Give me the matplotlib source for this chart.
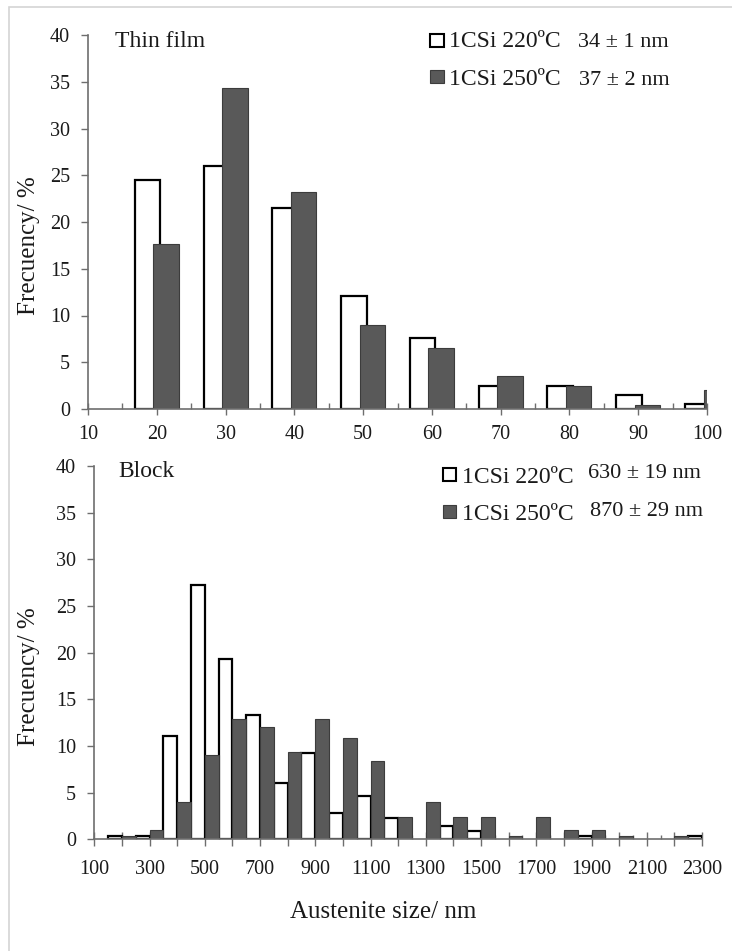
import numpy as np
import matplotlib
matplotlib.use("Agg")
import matplotlib.pyplot as plt
from matplotlib.patches import Rectangle
from matplotlib.ticker import MultipleLocator, FixedLocator, FuncFormatter

# ---------------- data ----------------
thin_sizes = [20, 30, 40, 50, 60, 70, 80, 90, 100]
thin_220 = [24.5, 26.0, 21.5, 12.1, 7.6, 2.5, 2.5, 1.5, 0.5]
thin_250 = [17.7, 34.3, 23.2, 9.0, 6.5, 3.5, 2.5, 0.4, 2.0]

block_sizes = [200, 300, 400, 500, 600, 700, 800, 900, 1000, 1100, 1200,
               1300, 1400, 1500, 1600, 1700, 1800, 1900, 2000, 2100, 2200, 2300]
block_220 = [0.4, 0.4, 11.1, 27.2, 19.3, 13.3, 6.0, 9.3, 2.8, 4.6, 2.3,
             0.0, 1.4, 0.9, 0.0, 0.0, 0.0, 0.4, 0.0, 0.0, 0.0, 0.4]
block_250 = [0.4, 1.0, 4.0, 9.0, 12.9, 12.0, 9.4, 12.9, 10.9, 8.4, 2.4,
             4.0, 2.4, 2.4, 0.4, 2.4, 1.0, 1.0, 0.4, 0.0, 0.4, 0.0]

series_names = ["1CSi 220ºC", "1CSi 250ºC"]
thin_stats = ["34 ± 1 nm", "37 ± 2 nm"]
block_stats = ["630 ± 19 nm", "870 ± 29 nm"]

# ---------------- style ----------------
W, H = 732, 951
FONT = "Liberation Serif"
plt.rcParams["font.family"] = [FONT, "DejaVu Serif"]
DARK = "#595959"
DARK_EDGE = "#3c3c3c"
AXC = "#6e6e6e"
TXT = "#1a1a1a"
TICKSIZE = 14.5

fig = plt.figure(figsize=(W / 100, H / 100), dpi=100)
fig.patch.set_facecolor("white")


def rect_px(l, t, r, b):
    return [l / W, 1 - b / H, (r - l) / W, (b - t) / H]


# light border around the whole figure
fig.add_artist(Rectangle((9 / W, -0.2), 1.5, 1.2 - 7 / H,
                         transform=fig.transFigure, fill=False,
                         edgecolor="#d4d4d4", linewidth=1.2))


def draw_bars(ax, x, a, b, width, offset):
    x = np.asarray(x, float)
    a = np.asarray(a, float)
    b = np.asarray(b, float)
    ma = a > 0
    mb = b > 0
    ax.bar(x[ma] - offset, a[ma], width=width, facecolor="white",
           edgecolor="black", linewidth=1.6, zorder=2)
    ax.bar(x[mb] + offset, b[mb], width=width, facecolor=DARK,
           edgecolor=DARK_EDGE, linewidth=0.8, zorder=3)


def style_axes(ax):
    for s in ["top", "right"]:
        ax.spines[s].set_visible(False)
    for s in ["left", "bottom"]:
        ax.spines[s].set_color(AXC)
        ax.spines[s].set_linewidth(1.2)
        ax.spines[s].set_zorder(4)
    ax.set_ylim(0, 40)
    ax.yaxis.set_major_locator(MultipleLocator(5))
    ax.tick_params(axis="y", direction="out", length=5, width=1.0,
                   color=AXC, pad=8, labelsize=TICKSIZE, labelcolor=TXT)


# ---------------- top: thin film ----------------
ax1 = fig.add_axes(rect_px(88, 35, 707, 409))
draw_bars(ax1, thin_sizes, thin_220, thin_250, width=3.7, offset=1.35)
style_axes(ax1)
ax1.set_xlim(10, 100)
ax1.xaxis.set_major_locator(MultipleLocator(10))
ax1.xaxis.set_minor_locator(FixedLocator(np.arange(15, 100, 10)))
ax1.tick_params(axis="x", which="major", direction="inout", length=9,
                width=1.0, color=AXC, pad=7, labelsize=TICKSIZE, labelcolor=TXT)
ax1.tick_params(axis="x", which="minor", direction="in", length=4,
                width=1.0, color=AXC)
ax1.set_ylabel("Frecuency/ %", fontsize=18, fontfamily=FONT, color=TXT)
ax1.yaxis.set_label_coords(40 / W, 1 - 246 / H, transform=fig.transFigure)

# ---------------- bottom: block ----------------
ax2 = fig.add_axes(rect_px(94.3, 466, 702, 839.3))
draw_bars(ax2, block_sizes, block_220, block_250, width=50, offset=25)
style_axes(ax2)
ax2.set_xlim(100, 2300)
ax2.xaxis.set_major_locator(MultipleLocator(100))
ax2.xaxis.set_minor_locator(FixedLocator(np.arange(150, 2300, 100)))
ax2.xaxis.set_major_formatter(FuncFormatter(
    lambda v, p: "%d" % v if int(round(v)) % 200 == 100 else ""))
ax2.tick_params(axis="x", which="major", direction="inout", length=10,
                width=1.0, color=AXC, pad=10, labelsize=TICKSIZE, labelcolor=TXT)
ax2.tick_params(axis="x", which="minor", direction="in", length=3,
                width=1.0, color=AXC)
ax2.set_ylabel("Frecuency/ %", fontsize=18, fontfamily=FONT, color=TXT)
ax2.yaxis.set_label_coords(40 / W, 1 - 677 / H, transform=fig.transFigure)
ax2.set_xlabel("Austenite size/ nm", fontsize=18, fontfamily=FONT, color=TXT)
ax2.xaxis.set_label_coords(383 / W, 1 - 901 / H, transform=fig.transFigure)

for ax in (ax1, ax2):
    for lab in ax.get_xticklabels() + ax.get_yticklabels():
        lab.set_fontfamily(FONT)


def ftext(x, y, s, size, va="baseline", ha="left"):
    fig.text(x / W, 1 - y / H, s, fontsize=size, fontfamily=FONT,
             color=TXT, va=va, ha=ha)


def fsquare(l, t, r, b, fc, ec, lw):
    fig.add_artist(Rectangle((l / W, 1 - b / H), (r - l) / W, (b - t) / H,
                             transform=fig.transFigure, facecolor=fc,
                             edgecolor=ec, linewidth=lw))


# panel titles
ftext(115, 47, "Thin film", 17)
ftext(118, 477, "Block", 17)

# top legend
fsquare(430, 34, 444, 47, "white", "black", 1.5)
ftext(449, 47, series_names[0], 17)
ftext(578, 47, thin_stats[0], 16)
fsquare(430, 70, 444, 83, DARK, DARK_EDGE, 0.8)
ftext(449, 85, series_names[1], 17)
ftext(579, 85, thin_stats[1], 16)

# bottom legend
fsquare(443, 468, 456, 481, "white", "black", 1.5)
ftext(462, 483, series_names[0], 17)
ftext(588, 478, block_stats[0], 16)
fsquare(443, 505, 456, 518, DARK, DARK_EDGE, 0.8)
ftext(462, 520, series_names[1], 17)
ftext(590, 516, block_stats[1], 16)

fig.savefig("out.png", dpi=100, facecolor="white")
